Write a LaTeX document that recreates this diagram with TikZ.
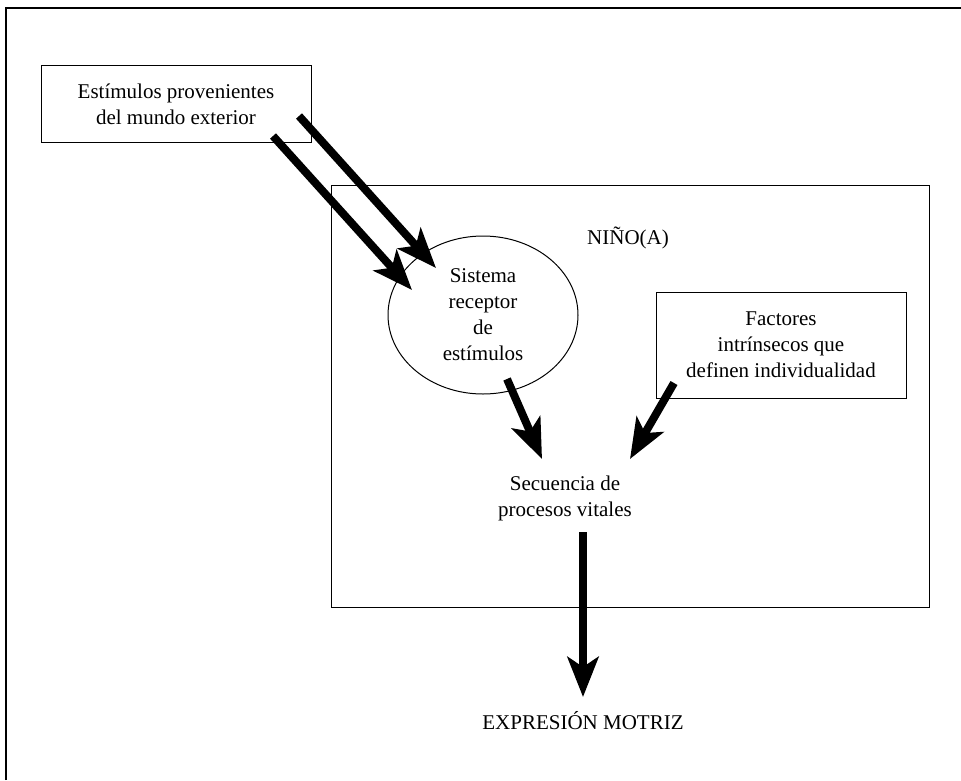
\documentclass[tikz,border=0pt]{standalone}
\usepackage{fontspec}
\setmainfont{Liberation Serif}
\usetikzlibrary{arrows.meta,shapes.geometric}

\tikzset{
  testo/.style={align=center, font=\fontsize{21}{26}\selectfont},
  scatola/.style={draw, line width=1pt, testo},
  freccia/.style={line width=8pt, -{Stealth[length=40pt,width=31pt,inset=10pt]}}
}
\newcommand{\freccia}[2]{ % #1 partenza, #2 arrivo
  \draw[freccia] (#1) -- (#2);
}

\begin{document}
\begin{tikzpicture}[x=1pt, y=-1pt]
    \useasboundingbox (0,0) rectangle (961,780);
    \draw[line width=1.5pt] (6,780) -- (6,8) -- (961,8);

    % riquadri
    \node[scatola, minimum width=270pt, minimum height=77pt] (estimoli) at (176,104)
        {Estímulos provenientes\\del mundo exterior};
    \node[draw, line width=1pt, minimum width=598pt, minimum height=422pt] (nino) at (630,396) {};
    \node[testo] (titolo) at (628,238) {NIÑO(A)};
    \node[scatola, ellipse, minimum width=190pt, minimum height=158pt, inner sep=0pt] (sistema) at (483,315)
        {Sistema\\receptor\\de\\estímulos};
    \node[scatola, minimum width=250pt, minimum height=106pt] (fattori) at (781,345)
        {Factores\\intrínsecos que\\definen individualidad};
    \node[testo] (sequenza) at (565,498) {Secuencia de\\procesos vitales};
    \node[testo] (espressione) at (583,721) {EXPRESIÓN MOTRIZ};

    % estremi delle frecce
    \coordinate (e1) at (299,116);
    \coordinate (s1) at (436,268);
    \coordinate (e2) at (273,136);
    \coordinate (s2) at (412,290);
    \coordinate (s3) at (507,379);
    \coordinate (q1) at (542,459);
    \coordinate (f1) at (674,383);
    \coordinate (q2) at (630,459);
    \coordinate (q3) at (583,532);
    \coordinate (x1) at (583,697);

    \freccia{e1}{s1}
    \freccia{e2}{s2}
    \freccia{s3}{q1}
    \freccia{f1}{q2}
    \freccia{q3}{x1}
\end{tikzpicture}
\end{document}
